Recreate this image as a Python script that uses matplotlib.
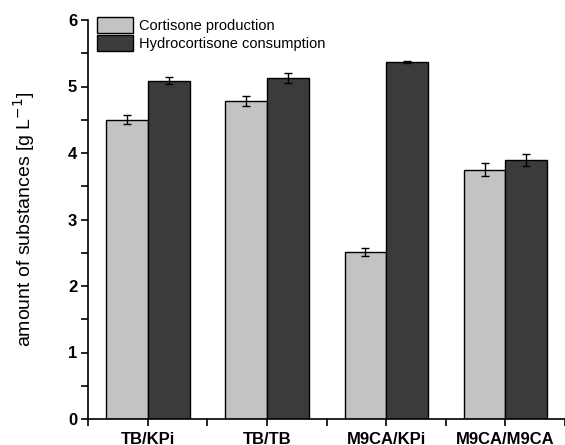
import matplotlib
matplotlib.use("Agg")
import matplotlib.pyplot as plt
import numpy as np
from matplotlib.ticker import MultipleLocator

categories = ["TB/KPi", "TB/TB", "M9CA/KPi", "M9CA/M9CA"]
cortisone = [4.50, 4.78, 2.51, 3.75]
cortisone_err = [0.065, 0.07, 0.055, 0.095]
hydro = [5.09, 5.13, 5.37, 3.89]
hydro_err = [0.05, 0.075, 0.01, 0.09]

plt.rcParams['font.family'] = ['Liberation Sans', 'DejaVu Sans']

fig = plt.figure(figsize=(5.65, 4.45), dpi=100)
ax = fig.add_axes([88.3/565, 26/445, 1 - 88.3/565, (419-20)/445])

x = np.arange(len(categories))
w = 0.35
light = '#c3c3c3'
dark = '#3b3b3b'
ekw = dict(ecolor='black', elinewidth=1.0, capsize=3.2, capthick=1.0)
ax.bar(x - w/2, cortisone, w, yerr=cortisone_err, color=light, edgecolor='black',
       linewidth=1.0, label='Cortisone production', error_kw=ekw)
ax.bar(x + w/2, hydro, w, yerr=hydro_err, color=dark, edgecolor='black',
       linewidth=1.0, label='Hydrocortisone consumption', error_kw=ekw)

ax.set_xlim(-0.5, 3.5)
ax.set_ylim(0, 6)
ax.set_xticks(x)
ax.set_xticklabels(categories, fontsize=12, fontweight='bold')
ax.set_xticks(np.arange(-0.5, 4.0, 1.0), minor=True)
ax.yaxis.set_major_locator(MultipleLocator(1))
ax.yaxis.set_minor_locator(MultipleLocator(0.5))
for lab in ax.get_yticklabels():
    lab.set_fontweight('bold')
    lab.set_fontsize(12)
ax.tick_params(axis='both', which='major', direction='out', length=5, width=1.2, pad=3)
ax.tick_params(axis='both', which='minor', direction='out', length=5, width=1.2)
ax.tick_params(axis='x', which='major', pad=4)

for s in ['top', 'right']:
    ax.spines[s].set_visible(False)
for s in ['left', 'bottom']:
    ax.spines[s].set_linewidth(1.2)

ax.set_ylabel(r'amount of substances [g L$^{-1}$]', fontsize=14, labelpad=22)

leg = ax.legend(loc='upper left', bbox_to_anchor=(97/565, 1 - 17/445),
                bbox_transform=fig.transFigure, frameon=False, fontsize=10.5,
                handlelength=2.5, handleheight=1.35, labelspacing=0.1,
                handletextpad=0.35, borderpad=0, borderaxespad=0)

fig.savefig('out.png', dpi=100)
